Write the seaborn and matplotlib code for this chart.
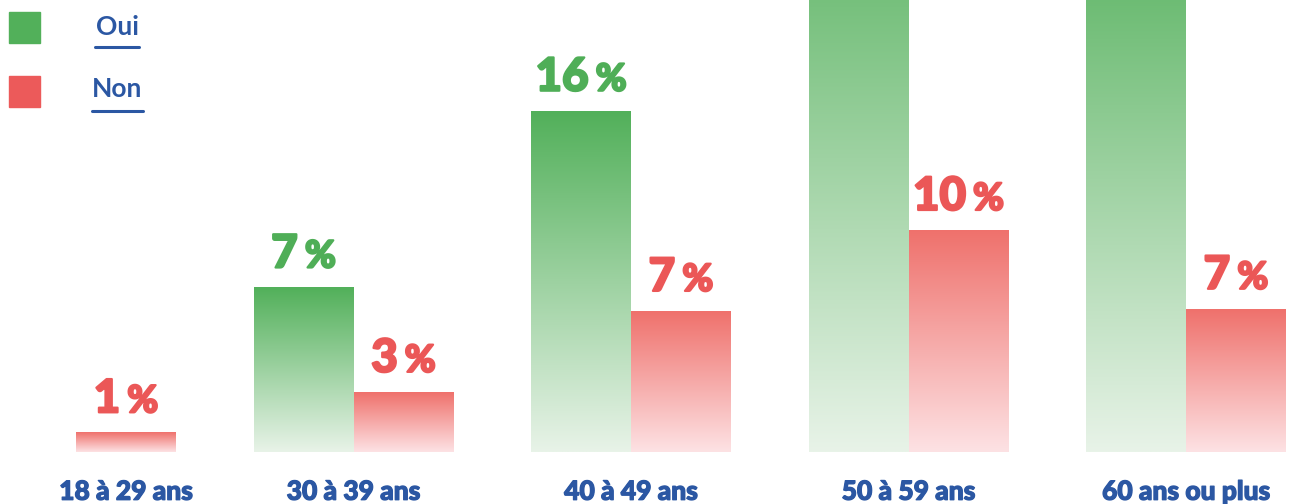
import numpy as np
import pandas as pd
import seaborn as sns
import matplotlib.pyplot as plt
import matplotlib.patheffects as pe
from matplotlib.colors import to_rgb
from matplotlib.patches import Rectangle
from matplotlib.lines import Line2D
from matplotlib.offsetbox import TextArea, HPacker, AnnotationBbox

# data (heights in %, labels as printed)
ages = ['18 à 29 ans', '30 à 39 ans', '40 à 49 ans', '50 à 59 ans', '60 ans ou plus']
oui = [0.0, 7.7, 16.0, 28.0, 26.0]
non = [0.9, 2.8, 6.6, 10.4, 6.7]
oui_labels = ['', '7', '16', '', '']
non_labels = ['1', '3', '7', '10', '7']

green = '#52b05a'
red = '#ec5a5a'
blue = '#2b57a3'
W, H = 1295, 504

df = pd.DataFrame({
    'age': ages * 2,
    'reponse': ['Oui'] * len(ages) + ['Non'] * len(ages),
    'pct': oui + non,
})

sns.set_theme(style='white')
plt.rcParams['font.family'] = ['Lato', 'DejaVu Sans']

fig = plt.figure(figsize=(W / 100, H / 100), dpi=100)
ax = fig.add_axes([0, 52 / H, 1, 452 / H])

sns.barplot(data=df, x='age', y='pct', hue='reponse', hue_order=['Oui', 'Non'],
            palette={'Oui': green, 'Non': red}, width=0.72, errorbar=None,
            legend=False, ax=ax)


def fill_gradient(bar, top, bottom):
    h = bar.get_height()
    if h <= 0:
        bar.set_visible(False)
        return
    x, w = bar.get_x(), bar.get_width()
    t = np.linspace(0, 1, 256)[:, None]
    grad = np.array(to_rgb(top))[None, :] * (1 - t) + np.array(to_rgb(bottom))[None, :] * t
    ax.imshow(grad[:, None, :], extent=(x, x + w, 0, h), origin='upper',
              aspect='auto', interpolation='bilinear', zorder=2)
    bar.set_visible(False)


def add_label(bar, num, color):
    if not num:
        return
    heavy = [pe.withStroke(linewidth=1.6, foreground=color)]
    digits = TextArea(num, textprops=dict(color=color, fontsize=33, fontweight=900,
                                          path_effects=heavy))
    pct = TextArea('%', textprops=dict(color=color, fontsize=27, fontweight=900,
                                       path_effects=heavy))
    box = HPacker(children=[digits, pct], sep=5, align='baseline', pad=0)
    ab = AnnotationBbox(box, (bar.get_x() + bar.get_width() / 2, bar.get_height()),
                        xybox=(0, 9), xycoords='data', boxcoords='offset points',
                        box_alignment=(0.5, 0), frameon=False, pad=0)
    ax.add_artist(ab)


for bar, lab in zip(ax.containers[0], oui_labels):
    fill_gradient(bar, green, '#e8f3e8')
    add_label(bar, lab, '#4fae57')
for bar, lab in zip(ax.containers[1], non_labels):
    fill_gradient(bar, '#ef716c', '#fde2e4')
    add_label(bar, lab, '#eb5757')

ax.set_xlim(-76 / 277.5, (W - 76) / 277.5)
ax.set_ylim(0, 452 / 21.3)
ax.set_xticks([0.18, 1, 2, 3, 4], ages, fontweight=900,
              path_effects=[pe.withStroke(linewidth=0.9, foreground=blue)])
ax.set_yticks([])
ax.tick_params(axis='x', length=0, pad=20, labelsize=19, labelcolor=blue)
ax.set_xlabel('')
ax.set_ylabel('')
for s in ax.spines.values():
    s.set_visible(False)

# legend with underlined labels
for y0, col, txt, ty, ux in [(12, green, 'Oui', 27, (95, 139)),
                             (76, red, 'Non', 89, (92, 143))]:
    fig.add_artist(Rectangle((9 / W, 1 - (y0 + 31) / H), 31 / W, 31 / H,
                             transform=fig.transFigure, color=col))
    fig.text(117 / W, 1 - ty / H, txt, ha='center', va='center', color=blue,
             fontsize=19, fontweight='bold')
    uy = 1 - (y0 + 35) / H
    fig.add_artist(Line2D([ux[0] / W, ux[1] / W], [uy, uy], transform=fig.transFigure,
                          color=blue, lw=2.2))

fig.savefig('out.png', dpi=100)
